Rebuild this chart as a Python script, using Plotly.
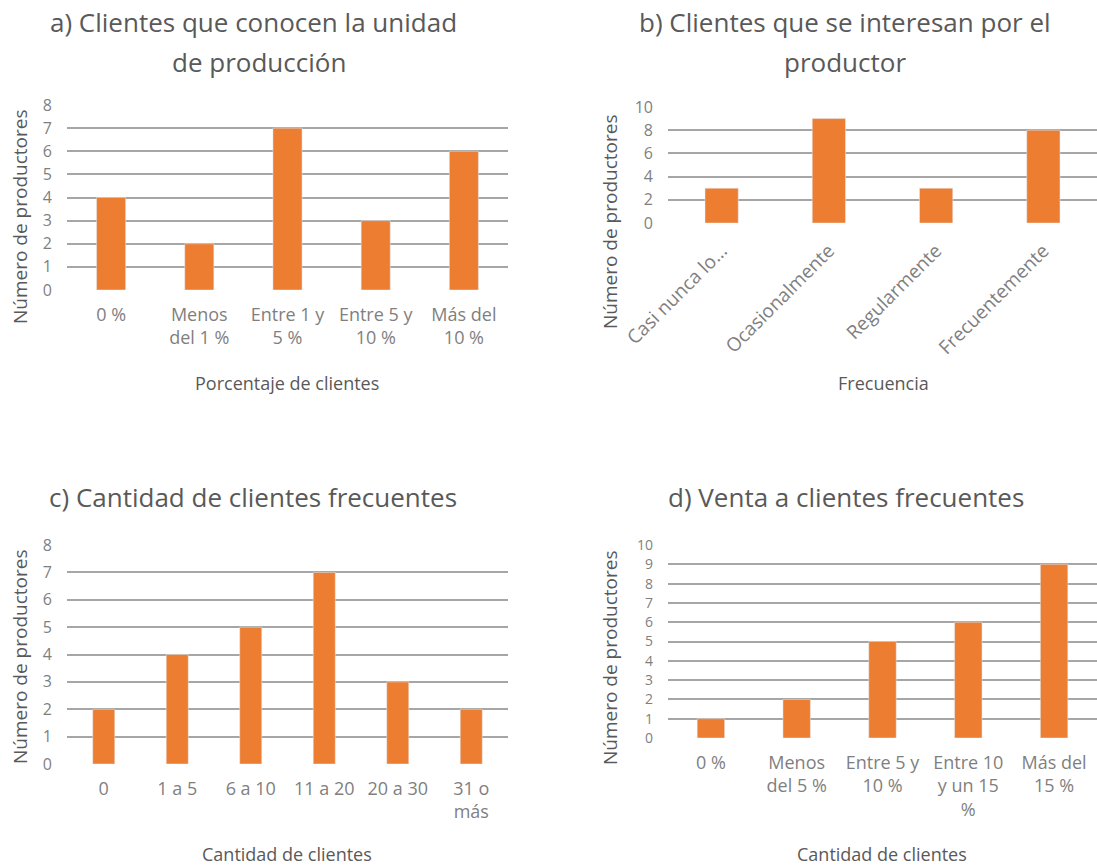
import plotly.graph_objects as go

# Data
cat_a = ["0 %", "Menos<br>del 1 %", "Entre 1 y<br>5 %", "Entre 5 y<br>10 %", "Más del<br>10 %"]
val_a = [4, 2, 7, 3, 6]

cat_b = ["Casi nunca lo...", "Ocasionalmente", "Regularmente", "Frecuentemente"]
val_b = [3, 9, 3, 8]

cat_c = ["0", "1 a 5", "6 a 10", "11 a 20", "20 a 30", "31 o<br>más"]
val_c = [2, 4, 5, 7, 3, 2]

cat_d = ["0 %", "Menos<br>del 5 %", "Entre 5 y<br>10 %", "Entre 10<br>y un 15<br>%", "Más del<br>15 %"]
val_d = [1, 2, 5, 6, 9]

ORANGE = "#ED7D31"
GRID = "#a6a6a6"
TICK = "#7f7f7f"
TITLE = "#595959"
FONT = "Open Sans"
W, H = 1097, 868

def px_x(x):
    return x / W

def px_y(y):
    return (H - y) / H

fig = go.Figure()
fig.add_trace(go.Bar(x=cat_a, y=val_a, width=0.33, marker_color=ORANGE, xaxis="x", yaxis="y"))
fig.add_trace(go.Bar(x=cat_b, y=val_b, width=0.31, marker_color=ORANGE, xaxis="x2", yaxis="y2"))
fig.add_trace(go.Bar(x=cat_c, y=val_c, width=0.30, marker_color=ORANGE, xaxis="x3", yaxis="y3"))
fig.add_trace(go.Bar(x=cat_d, y=val_d, width=0.32, marker_color=ORANGE, xaxis="x4", yaxis="y4"))

def xaxis(dom, anchor, angle=0, size=18):
    return dict(domain=dom, anchor=anchor, showgrid=False, showline=False, zeroline=False,
                ticks="", tickangle=angle, ticklabelstandoff=12, automargin=False,
                tickfont=dict(family=FONT, size=size, color=TICK), fixedrange=True)

def yaxis(dom, anchor, rng, dtick, size=16):
    return dict(domain=dom, anchor=anchor, range=rng, dtick=dtick, showgrid=True,
                gridcolor=GRID, gridwidth=2, zeroline=False, showline=False, ticks="",
                automargin=False, ticklabelstandoff=14,
                tickfont=dict(family=FONT, size=size, color=TICK))

xa = [px_x(67), px_x(508)]
xb = [px_x(668), 1.0]

fig.update_layout(
    width=W, height=H, margin=dict(l=0, r=0, t=0, b=0),
    paper_bgcolor="white", plot_bgcolor="white", showlegend=False,
    xaxis=xaxis(xa, "y"),
    yaxis=yaxis([px_y(290), px_y(105)], "x", [0, 8], 1),
    xaxis2=xaxis(xb, "y2", -45, 19),
    yaxis2=yaxis([px_y(223), px_y(107)], "x2", [0, 10], 2),
    xaxis3=xaxis(xa, "y3"),
    yaxis3=yaxis([px_y(764), px_y(545)], "x3", [0, 8], 1),
    xaxis4=xaxis(xb, "y4"),
    yaxis4=yaxis([px_y(738), px_y(545)], "x4", [0, 10], 1, 14),
)

def ann(text, x, y, size, color, angle=0, yanchor="middle"):
    fig.add_annotation(text=text, x=px_x(x), y=px_y(y), xref="paper", yref="paper",
                       showarrow=False, xanchor="center", yanchor=yanchor, textangle=angle,
                       font=dict(family=FONT, size=size, color=color))

# Subplot titles
ann("a) Clientes que conocen la unidad", 254, 22, 26, TITLE)
ann("de producción", 259, 62, 26, TITLE)
ann("b) Clientes que se interesan por el", 845, 22, 26, TITLE)
ann("productor", 845, 62, 26, TITLE)
ann("c) Cantidad de clientes frecuentes", 253, 497, 26, TITLE)
ann("d) Venta a clientes frecuentes", 846, 497, 26, TITLE)

# Axis titles
ann("Porcentaje de clientes", 287, 383, 18, TITLE)
ann("Frecuencia", 883, 383, 18, TITLE)
ann("Cantidad de clientes", 287, 868, 18, TITLE, yanchor="bottom")
ann("Cantidad de clientes", 882, 868, 18, TITLE, yanchor="bottom")
ann("Número de productores", 20, 217, 19, TITLE, -90)
ann("Número de productores", 610, 222, 19, TITLE, -90)
ann("Número de productores", 20, 657, 19, TITLE, -90)
ann("Número de productores", 610, 658, 19, TITLE, -90)

fig.write_html("out.html")
